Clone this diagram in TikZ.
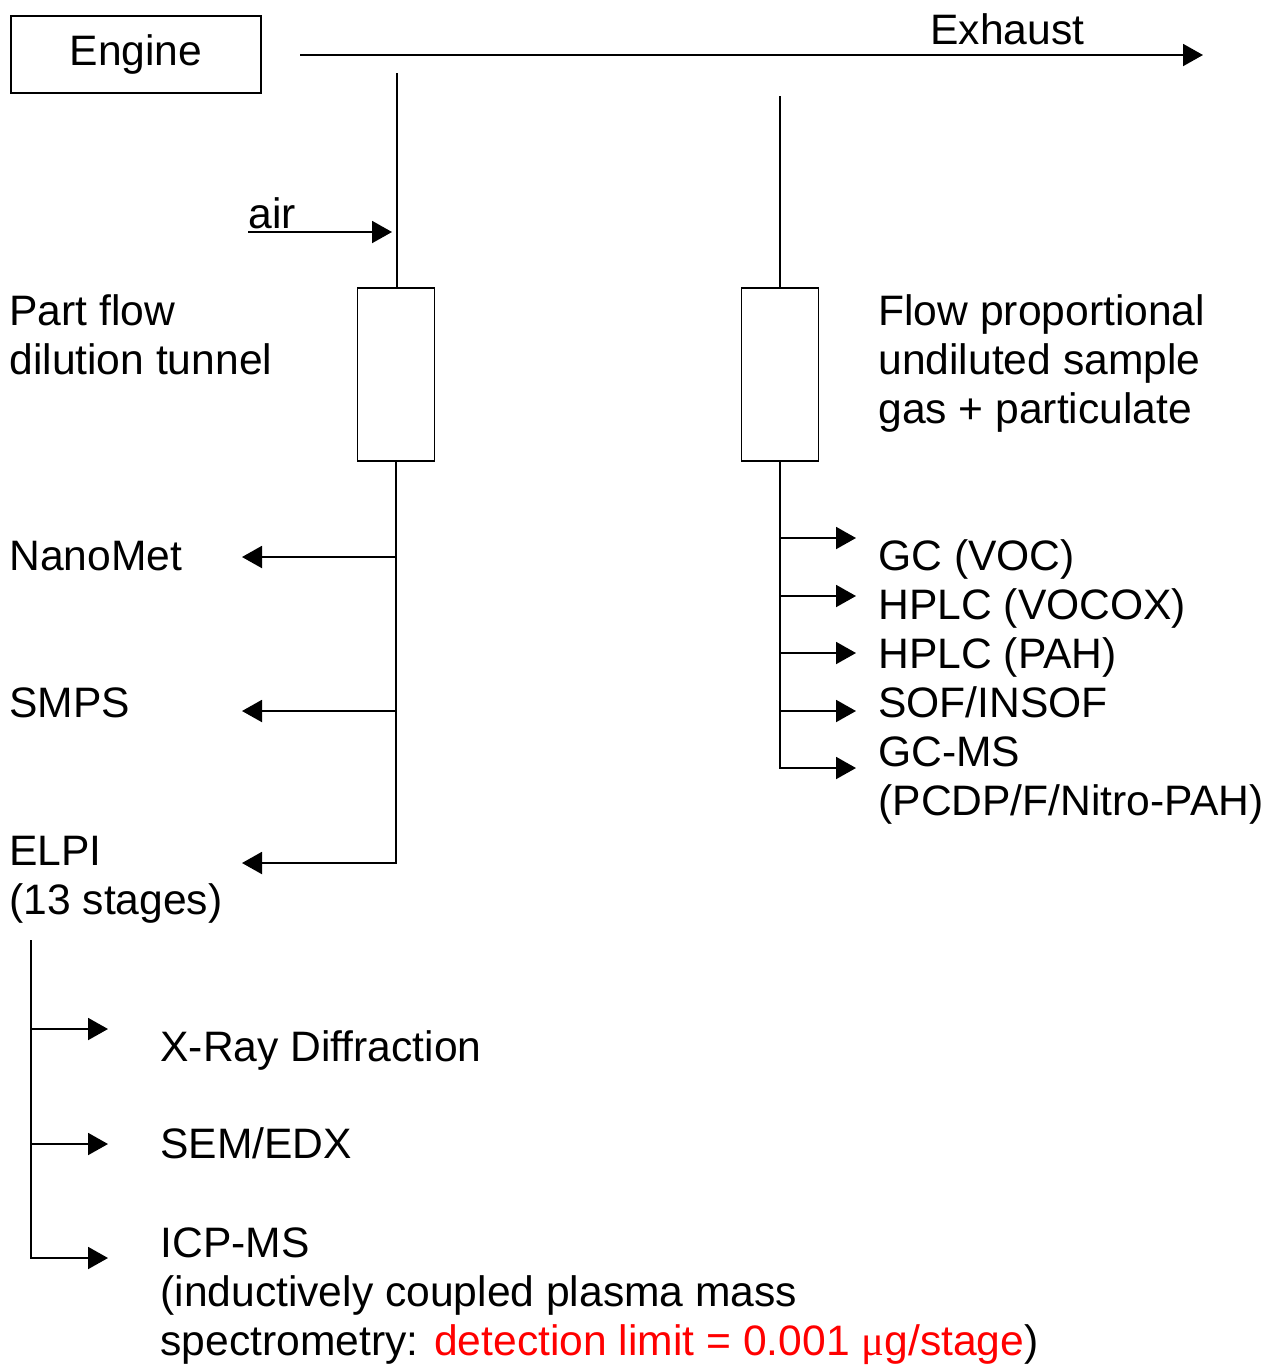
\documentclass[tikz,border=0pt]{standalone}
\usepackage{fontspec}
\setmainfont{Liberation Sans}
\newfontfamily\symfont{Liberation Serif}
\usetikzlibrary{arrows.meta,calc}

\begin{document}
\begin{tikzpicture}[
  x=0.5pt, y=-0.5pt,
  every node/.style={font=\fontsize{21.3}{24.5}\selectfont},
  pipe/.style={line width=1pt},
  % every branch ends in a filled triangle
  flow/.style={pipe, -{Triangle[length=10pt, width=11pt]}},
  box/.style={draw, line width=0.8pt, minimum width=125pt,
              minimum height=38.5pt, inner sep=0},
  tube/.style={draw, line width=0.8pt, minimum width=38.5pt,
               minimum height=86.5pt, inner sep=0},
  % base west of a multi-line label sits on its LAST line
  lbl/.style={anchor=base west, inner sep=0, align=left},
  warn/.style={text=red}
]
\useasboundingbox (0,0) rectangle (1276,1367);

% ══ engine and exhaust line ════════════════════════════════════════════════
\node[box] (engine) at (136,54.5) {Engine};
\coordinate (exA) at (300,55);
\coordinate (exB) at (1203,55);
\draw[flow] (exA) -- (exB);
\node[lbl] (exhaust) at (930,44) {Exhaust};

% ══ the two sampling probes ════════════════════════════════════════════════
\node[tube] (dil) at (396,374.5) {};
\node[tube] (raw) at (780,374.5) {};
\coordinate (probeL) at (397,73);
\coordinate (probeR) at (780,96);
\draw[pipe] (probeL) -- (probeL |- dil.north);
\draw[pipe] (probeR) -- (raw.north);

% dilution air
\coordinate (airin) at (248,232);
\coordinate (airout) at (392,232);
\draw[flow] (airin) -- (airout);
\node[lbl] (air) at (248,228) {air};

\node[lbl] (dillbl) at (9,374) {Part flow\\dilution tunnel};
\node[lbl] (rawlbl) at (878,423)
  {Flow proportional\\undiluted sample\\gas + particulate};

% ══ diluted side: online instruments ═══════════════════════════════════════
\node[lbl] (nanomet) at (9,570) {NanoMet};
\node[lbl] (smps) at (9,717) {SMPS};
\node[lbl] (elpi) at (9,914) {ELPI\\(13 stages)};
\coordinate (nanoT) at (242,557);
\coordinate (smpsT) at (242,711);
\coordinate (elpiT) at (242,863);
\draw[flow] (dil.south) |- (elpiT);
\draw[flow] (dil.south |- nanoT) -- (nanoT);
\draw[flow] (dil.south |- smpsT) -- (smpsT);

% ══ undiluted side: chemical analysis ══════════════════════════════════════
\node[lbl] (gc) at (878,570) {GC (VOC)};
\node[lbl] (hplcv) at (878,619) {HPLC (VOCOX)};
\node[lbl] (hplcp) at (878,668) {HPLC (PAH)};
\node[lbl] (sof) at (878,717) {SOF/INSOF};
\node[lbl] (gcms) at (878,815) {GC-MS\\(PCDP/F/Nitro-PAH)};
\foreach \ty in {538,596,653,711}{
  \draw[flow] (raw.south |- 0,\ty) -- (856,\ty);
}
\coordinate (gcmsT) at (856,768);
\draw[flow] (raw.south) |- (gcmsT);

% ══ ELPI stages: offline analysis ══════════════════════════════════════════
\coordinate (stages) at (31,940);
\coordinate (xrdT) at (108,1029);
\coordinate (semT) at (108,1144);
\coordinate (icpT) at (108,1258);
\draw[flow] (stages) |- (icpT);
\draw[flow] (stages |- xrdT) -- (xrdT);
\draw[flow] (stages |- semT) -- (semT);
\node[lbl] (xrd) at (160,1061) {X-Ray Diffraction};
\node[lbl] (sem) at (160,1158) {SEM/EDX};
\node[lbl] (icp) at (160,1355)
  {ICP-MS\\(inductively coupled plasma mass\\spectrometry: {\color{red}detection limit = 0.001 {\symfont μ}g/stage})};

\end{tikzpicture}
\end{document}
